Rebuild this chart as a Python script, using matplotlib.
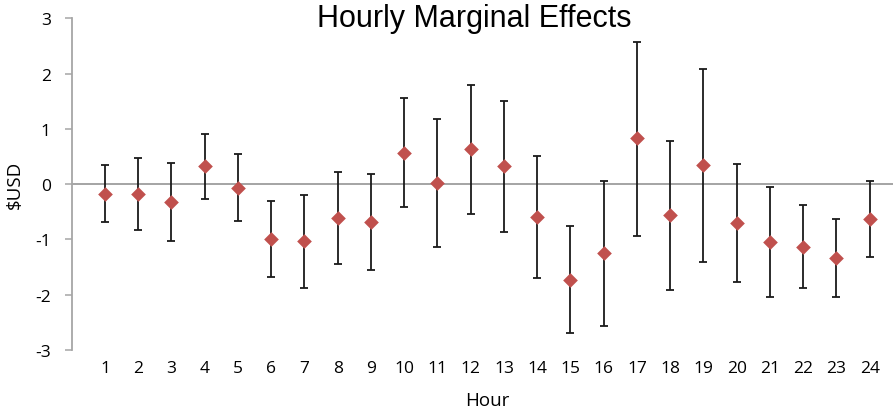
import matplotlib
matplotlib.use("Agg")
import matplotlib.pyplot as plt
import numpy as np

hours = list(range(1, 25))
effect = [-0.18, -0.17, -0.32, 0.32, -0.07, -0.99, -1.03, -0.61, -0.68, 0.57, 0.02, 0.63,
          0.32, -0.59, -1.73, -1.25, 0.83, -0.56, 0.35, -0.70, -1.04, -1.13, -1.33, -0.63]
upper = [0.34, 0.47, 0.39, 0.90, 0.55, -0.31, -0.19, 0.22, 0.18, 1.55, 1.17, 1.79,
         1.51, 0.51, -0.76, 0.05, 2.58, 0.78, 2.09, 0.36, -0.05, -0.38, -0.63, 0.05]
lower = [-0.69, -0.83, -1.03, -0.27, -0.67, -1.68, -1.87, -1.45, -1.55, -0.42, -1.13, -0.54,
         -0.87, -1.69, -2.70, -2.56, -0.93, -1.91, -1.40, -1.77, -2.04, -1.88, -2.04, -1.32]
yticks = [-3, -2, -1, 0, 1, 2, 3]

W, H = 893, 414
fig = plt.figure(figsize=(W / 100, H / 100), dpi=100)
left, right = 71.7 / W, 903 / W
top, bottom = 1 - 19.3 / H, 1 - 351 / H
ax = fig.add_axes([left, bottom, right - left, top - bottom])

eff = np.array(effect)
yerr = np.vstack([eff - np.array(lower), np.array(upper) - eff])
ax.errorbar(hours, eff, yerr=yerr, fmt='none', ecolor='#1a1a1a', elinewidth=1.3,
            capsize=3.2, capthick=1.3, zorder=2)
ax.scatter(hours, eff, marker='D', s=56, color='#C0504D', zorder=3, linewidths=0)

ax.axhline(0, color='#8c8c8c', lw=1.1, zorder=1)
ax.set_xlim(0, 25)
ax.set_ylim(-3, 3)

for s in ['top', 'right', 'bottom']:
    ax.spines[s].set_visible(False)
ax.spines['left'].set_color('#a6a6a6')
ax.spines['left'].set_linewidth(1.3)

font = 'Open Sans'
ax.set_yticks(yticks)
ax.set_yticklabels([str(v) for v in yticks], fontfamily=font, fontsize=12.5)
ax.tick_params(axis='y', length=5, width=1.1, color='#a6a6a6', pad=10)
ax.set_xticks(hours)
ax.set_xticklabels([str(h) for h in hours], fontfamily=font, fontsize=12.5)
ax.tick_params(axis='x', length=0, pad=7)

fig.text(474.5 / W, 1 - 19 / H, 'Hourly Marginal Effects', ha='center', va='center',
         fontfamily='Liberation Sans', fontsize=22)
fig.text(487 / W, 1 - 401 / H, 'Hour', ha='center', va='center', fontfamily=font, fontsize=13.5)
fig.text(15 / W, 1 - 185 / H, '$USD', ha='center', va='center', rotation=90,
         fontfamily=font, fontsize=13.5)

fig.savefig('out.png', dpi=100)
